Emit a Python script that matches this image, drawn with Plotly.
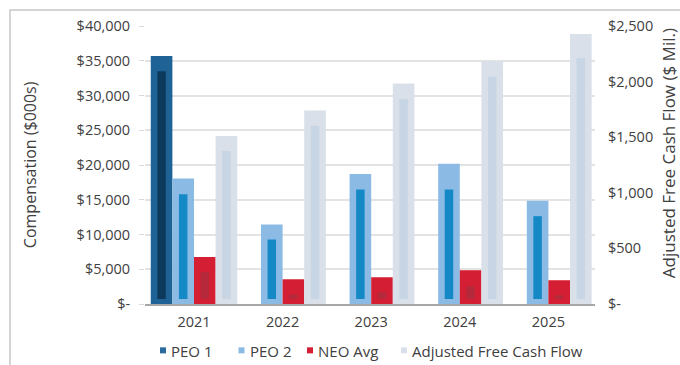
import plotly.graph_objects as go

# ---------------- data ----------------
years = ["2021", "2022", "2023", "2024", "2025"]
peo1_outer = [35700, None, None, None, None]
peo1_inner = [33500, None, None, None, None]
peo2_outer = [18050, 11450, 18700, 20170, 14850]
peo2_inner = [15800, 9280, 16480, 16480, 12640]
neo_outer = [6780, 3560, 3850, 4860, 3420]
neo_inner = [4600, 1360, 1690, 2550, 1260]
fcf_outer = [1510, 1740, 1984, 2185, 2428]
fcf_inner = [1377, 1602, 1843, 2044, 2209]
series_names = ["PEO 1", "PEO 2", "NEO Avg", "Adjusted Free Cash Flow"]
left_ticks = [0, 5000, 10000, 15000, 20000, 25000, 30000, 35000, 40000]
right_ticks = [0, 500, 1000, 1500, 2000, 2500]

# ---------------- styling ----------------
W, H = 680, 365
ML, MR, MT, MB = 145, 85, 26, 61.3
PW, PH = W - ML - MR, H - MT - MB
BAR_W = 0.244
IN_W = 0.096
INNER_BASE_PX = 5
FONT = "Open Sans"
TXT = "#404040"

outer_colors = ["#1f6396", "#8bbbe5", "#d41e33", "#d9e0e9"]
inner_colors = ["#0d3a5c", "#1589c6", "#b42a3b", "#c8d5e4"]
legend_colors = ["#2a6a9c", "#8bbbe5", "#d41e33", "#d9e0e9"]

x_idx = list(range(len(years)))

def money(v):
    return "$-" if v == 0 else "${:,}".format(v)

left_max, right_max = 40000, 2500
base_left = INNER_BASE_PX / PH * left_max
base_right = INNER_BASE_PX / PH * right_max

series = [
    (peo1_outer, peo1_inner, "y"),
    (peo2_outer, peo2_inner, "y"),
    (neo_outer, neo_inner, "y"),
    (fcf_outer, fcf_inner, "y2"),
]

fig = go.Figure()
for k, (outer, inner, ax) in enumerate(series):
    off = -2 * BAR_W + k * BAR_W
    base = base_left if ax == "y" else base_right
    fig.add_trace(go.Bar(
        x=x_idx, y=outer, width=BAR_W, offset=off, yaxis=ax,
        marker=dict(color=outer_colors[k], line=dict(width=0)),
        name=series_names[k], showlegend=False, hoverinfo="skip"))
    fig.add_trace(go.Bar(
        x=x_idx, y=[None if v is None else v - base for v in inner],
        base=base, width=IN_W, offset=off + (BAR_W - IN_W) / 2, yaxis=ax,
        marker=dict(color=inner_colors[k], line=dict(width=0)),
        name=series_names[k] + " inner", showlegend=False, hoverinfo="skip"))

fig.update_layout(
    width=W, height=H, autosize=False,
    margin=dict(l=ML, r=MR, t=MT, b=MB, pad=0),
    paper_bgcolor="white", plot_bgcolor="white",
    barmode="overlay", showlegend=False,
    font=dict(family=FONT, color=TXT, size=14.5),
    xaxis=dict(
        range=[-0.553, 4.526], tickmode="array", tickvals=x_idx, ticktext=years,
        showgrid=False, zeroline=False, showline=True, linecolor="#a6a6a6",
        linewidth=2, ticks="", tickfont=dict(size=14.5, color=TXT),
        ticklabelstandoff=4),
    yaxis=dict(
        range=[0, left_max], tickmode="array", tickvals=left_ticks,
        ticktext=[money(v) for v in left_ticks],
        showgrid=True, gridcolor="#e3e3e3", gridwidth=1.5, zeroline=False,
        showline=False, ticks="outside", ticklen=5, tickcolor="#d9d9d9",
        tickwidth=1, tickfont=dict(size=14.5, color=TXT), ticklabelstandoff=6),
    yaxis2=dict(
        range=[0, right_max], overlaying="y", side="right", tickmode="array",
        tickvals=right_ticks, ticktext=[money(v) for v in right_ticks],
        showgrid=False, zeroline=False, showline=False, ticks="",
        tickfont=dict(size=14.5, color=TXT), ticklabelstandoff=12),
)

def px_x(p):
    return (p - ML) / PW

def px_y(p):
    return (H - MB - p) / PH

# outer frame (left and top lines)
fig.add_shape(type="rect", xref="paper", yref="paper",
              x0=px_x(10), x1=px_x(720), y0=px_y(420), y1=px_y(10),
              line=dict(color="#c8c8c8", width=1.5), layer="below")

# axis titles
fig.add_annotation(text="Compensation ($000s)", xref="paper", yref="paper",
                   x=px_x(30), y=px_y(165), textangle=-90, showarrow=False,
                   xanchor="center", yanchor="middle",
                   font=dict(size=16, color=TXT, family=FONT))
fig.add_annotation(text="Adjusted Free Cash Flow ($ Mil.)", xref="paper", yref="paper",
                   x=px_x(668), y=px_y(153), textangle=-90, showarrow=False,
                   xanchor="center", yanchor="middle",
                   font=dict(size=17, color=TXT, family=FONT))

# legend
leg_sq = [163, 241.5, 310, 404]
leg_y = 350
for k, name in enumerate(series_names):
    cx = leg_sq[k]
    fig.add_shape(type="rect", xref="paper", yref="paper",
                  x0=px_x(cx - 3), x1=px_x(cx + 3),
                  y0=px_y(leg_y + 3), y1=px_y(leg_y - 3),
                  fillcolor=legend_colors[k], line=dict(width=0))
    fig.add_annotation(text=name, xref="paper", yref="paper",
                       x=px_x(cx + 6), y=px_y(leg_y + 1), showarrow=False,
                       xanchor="left", yanchor="middle",
                       font=dict(size=15, color=TXT, family=FONT))

fig.write_html("out.html")
